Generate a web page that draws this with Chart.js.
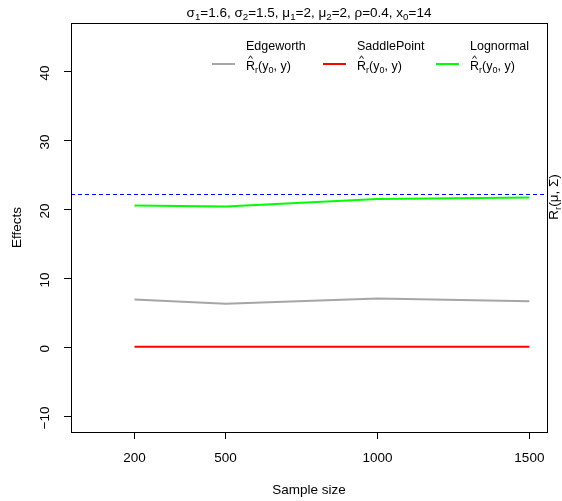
<!DOCTYPE html>
<html>
<head>
<meta charset="utf-8">
<script src="https://cdn.jsdelivr.net/npm/chart.js@4"></script>
<style>
  body { margin: 0; background: #fff; }
  canvas { display: block; }
</style>
</head>
<body>
<canvas id="myChart" width="562" height="501"></canvas>
<script>
const sampleSizes = [200, 500, 1000, 1500];
const edgeworth = [7.0, 6.4, 7.15, 6.75];
const saddlePoint = [0.15, 0.15, 0.15, 0.15];
const lognormal = [20.65, 20.5, 21.6, 21.8];
const trueValue = 22.3;

const xTicks = [200, 500, 1000, 1500];
const yTicks = [-10, 0, 10, 20, 30, 40];

const seriesNames = ["Edgeworth", "SaddlePoint", "Lognormal"];
const seriesColors = ["#a6a6a6", "#ff0000", "#00ff00"];

const FONT = "'Liberation Sans', Arial, Helvetica, sans-serif";
const FS = 13.5;

function toPoints(ys) {
  return sampleSizes.map((x, i) => ({ x: x, y: ys[i] }));
}

// draws a run of [text, kind] parts; kind: "n" normal, "s" subscript, "h" letter with hat
function richWidth(ctx, parts, size) {
  let w = 0;
  parts.forEach(([t, k]) => {
    ctx.font = (k === "s" ? size * 0.72 : size) + "px " + FONT;
    w += ctx.measureText(t).width;
  });
  return w;
}

function drawRich(ctx, parts, x, y, size, align) {
  let cx = x;
  if (align === "center") cx = x - richWidth(ctx, parts, size) / 2;
  ctx.textBaseline = "alphabetic";
  ctx.textAlign = "left";
  parts.forEach(([t, k]) => {
    const fs = k === "s" ? size * 0.72 : size;
    ctx.font = fs + "px " + FONT;
    const w = ctx.measureText(t).width;
    const dy = k === "s" ? size * 0.25 : 0;
    ctx.fillText(t, cx, y + dy);
    if (k === "h") {
      const top = y - size * 0.78;
      ctx.beginPath();
      ctx.lineWidth = 0.9;
      ctx.moveTo(cx + w * 0.28, top - 1.5);
      ctx.lineTo(cx + w * 0.5, top - 4.5);
      ctx.lineTo(cx + w * 0.72, top - 1.5);
      ctx.stroke();
    }
    cx += w;
  });
}

const titleParts = [
  ["σ", "n"], ["1", "s"], ["=1.6, σ", "n"], ["2", "s"], ["=1.5, μ", "n"], ["1", "s"],
  ["=2, μ", "n"], ["2", "s"], ["=2, ρ=0.4, x", "n"], ["0", "s"], ["=14", "n"]
];
const estParts = [["R", "h"], ["r", "s"], ["(y", "n"], ["0", "s"], [", y)", "n"]];
const trueParts = [["R", "n"], ["r", "s"], ["(μ, Σ)", "n"]];

const legendX = [212, 323, 436];

const rDecor = {
  id: "rDecor",
  beforeDatasetsDraw(chart) {
    const ctx = chart.ctx, a = chart.chartArea;
    const yRef = Math.round(chart.scales.y.getPixelForValue(trueValue)) + 0.5;
    ctx.save();
    ctx.strokeStyle = "#0000ff";
    ctx.lineWidth = 1;
    ctx.setLineDash([4, 3]);
    ctx.beginPath();
    ctx.moveTo(a.left, yRef);
    ctx.lineTo(a.right, yRef);
    ctx.stroke();
    ctx.restore();
  },
  afterDraw(chart) {
    const ctx = chart.ctx, a = chart.chartArea;
    const xs = chart.scales.x, ys = chart.scales.y;
    ctx.save();
    ctx.fillStyle = "#000";
    ctx.strokeStyle = "#000";

    // frame
    ctx.lineWidth = 1;
    ctx.strokeRect(Math.round(a.left) + 0.5, Math.round(a.top) + 0.5,
      Math.round(a.right - a.left), Math.round(a.bottom - a.top));

    // x tick labels
    ctx.font = FS + "px " + FONT;
    ctx.textAlign = "center";
    ctx.textBaseline = "middle";
    xTicks.forEach(v => ctx.fillText(String(v), xs.getPixelForValue(v), 458));
    ctx.fillText("Sample size", (a.left + a.right) / 2, 490);

    // y tick labels, rotated like base graphics
    yTicks.forEach(v => {
      ctx.save();
      ctx.translate(45, ys.getPixelForValue(v) + 1);
      ctx.rotate(-Math.PI / 2);
      ctx.fillText(v < 0 ? "\u2212" + Math.abs(v) : String(v), 0, 0);
      ctx.restore();
    });
    ctx.save();
    ctx.translate(17, (a.top + a.bottom) / 2);
    ctx.rotate(-Math.PI / 2);
    ctx.fillText("Effects", 0, 0);
    ctx.restore();

    // title
    drawRich(ctx, titleParts, (a.left + a.right) / 2, 17, FS, "center");

    // label on the right margin at the reference value
    ctx.save();
    ctx.translate(558, ys.getPixelForValue(trueValue) + 3);
    ctx.rotate(-Math.PI / 2);
    drawRich(ctx, trueParts, 0, 0, FS, "center");
    ctx.restore();

    // legend
    seriesNames.forEach((name, i) => {
      const x0 = legendX[i];
      ctx.strokeStyle = seriesColors[i];
      ctx.lineWidth = 2;
      ctx.beginPath();
      ctx.moveTo(x0, 64);
      ctx.lineTo(x0 + 23, 64);
      ctx.stroke();
      ctx.strokeStyle = "#000";
      ctx.font = "12.5px " + FONT;
      ctx.textAlign = "left";
      ctx.textBaseline = "alphabetic";
      ctx.fillText(name, x0 + 34, 50);
      drawRich(ctx, estParts, x0 + 34, 70, 12.5, "left");
    });
    ctx.restore();
  }
};

const data = {
  datasets: seriesNames.map((name, i) => ({
    label: name,
    data: toPoints([edgeworth, saddlePoint, lognormal][i]),
    borderColor: seriesColors[i],
    borderWidth: 2,
    pointRadius: 0,
    showLine: true,
    tension: 0,
    clip: false
  }))
};

const config = {
  type: "scatter",
  data: data,
  options: {
    responsive: false,
    animation: false,
    layout: { padding: { top: 23, right: 15, left: 0, bottom: 0 } },
    scales: {
      x: {
        type: "linear",
        min: -9,
        max: 1558,
        afterBuildTicks: s => { s.ticks = xTicks.map(v => ({ value: v })); },
        afterFit: s => { s.height = 69; },
        ticks: { display: false },
        grid: { drawOnChartArea: false, drawTicks: true, tickLength: 7, color: "#000", lineWidth: 1 },
        border: { display: true, color: "#000" }
      },
      y: {
        type: "linear",
        min: -12.2,
        max: 47.1,
        afterBuildTicks: s => { s.ticks = yTicks.map(v => ({ value: v })); },
        afterFit: s => { s.width = 71; },
        ticks: { display: false },
        grid: { drawOnChartArea: false, drawTicks: true, tickLength: 7, color: "#000", lineWidth: 1 },
        border: { display: true, color: "#000" }
      }
    },
    plugins: {
      legend: { display: false },
      title: { display: false },
      tooltip: { enabled: false }
    }
  },
  plugins: [rDecor]
};

let myChart = new Chart(document.getElementById("myChart"), config);
</script>
</body>
</html>
